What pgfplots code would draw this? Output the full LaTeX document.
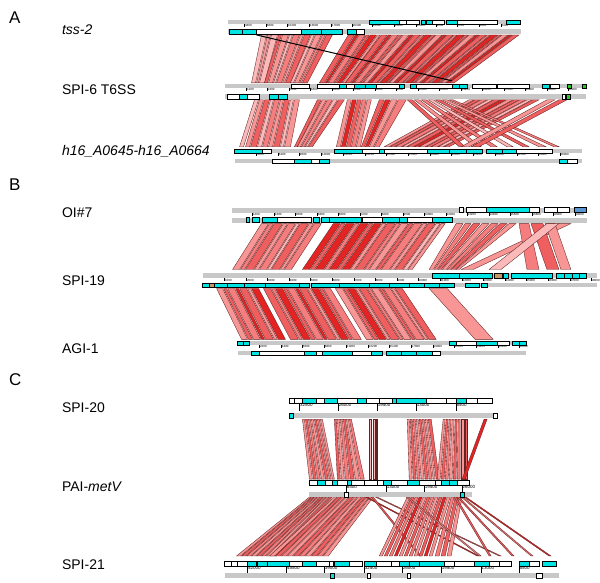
\documentclass[border=0pt]{standalone}
\usepackage{pgfplots}
\pgfplotsset{compat=1.18}
\usepackage{fontspec}
\setmainfont{Liberation Sans}
\definecolor{gb}{RGB}{200,200,200}
\definecolor{cy}{RGB}{0,228,228}
\definecolor{c1}{RGB}{248,150,150}
\definecolor{c2}{RGB}{240,95,95}
\definecolor{c3}{RGB}{252,185,185}
\definecolor{c4}{RGB}{228,35,35}
\definecolor{c5}{RGB}{245,125,125}
\definecolor{ed}{RGB}{100,35,35}
\definecolor{gr}{RGB}{40,200,40}
\definecolor{br}{RGB}{200,150,100}
\definecolor{bl}{RGB}{90,150,210}
\newcommand{\R}[5]{\addplot[fill=#5,draw=none,mark=none] coordinates {(#1,#3)(#2,#3)(#2,#4)(#1,#4)} --cycle;}
\newcommand{\F}[5]{\addplot[fill=#5,draw=black,line width=0.3pt,mark=none] coordinates {(#1,#3)(#2,#3)(#2,#4)(#1,#4)} --cycle;}
\newcommand{\lk}[5]{\addplot[fill=#5,draw=ed,line width=0.35pt,mark=none] coordinates {(#1,\yT)(#2,\yT)(#4,\yB)(#3,\yB)} --cycle;}
\newcommand{\tk}[4]{\addplot[black,line width=0.25pt,mark=none] coordinates {(#1,#2)(#1,#3)};
 \node[font=\fontsize{3}{3}\selectfont,anchor=north west,inner sep=0.3pt] at (axis cs:#1,#2) {#4};}
\newcommand{\tK}[4]{\addplot[black,line width=0.3pt,mark=none] coordinates {(#1,#2)(#1,#3)};
 \node[font=\fontsize{4.5}{4.5}\selectfont,anchor=north west,inner sep=0.4pt] at (axis cs:#1,#2) {#4};}
\begin{document}
\begin{tikzpicture}
\begin{axis}[scale only axis, width=600pt, height=584pt, xmin=0, xmax=600, ymin=0, ymax=584,
  y dir=reverse, hide axis, clip=false]
\R{0}{600}{0}{584}{white}
% ================= LINKS =================
% A1
\def\yT{35}\def\yB{83}
\lk{262}{267}{252}{256}{c3}\lk{268}{271}{257}{259}{c1}\lk{272}{278}{260}{265}{c3}\lk{279}{282}{265}{268}{c2}
\lk{283}{289}{269}{273}{c1}\lk{290}{293}{274}{276}{c3}\lk{294}{300}{277}{282}{c5}\lk{301}{304}{283}{285}{c1}
\lk{305}{311}{286}{291}{c2}\lk{312}{315}{291}{294}{c3}\lk{316}{322}{295}{299}{c1}\lk{323}{326}{300}{302}{c5}
\lk{327}{333}{303}{308}{c2}
\lk{349}{355}{320}{325}{c2}\lk{356}{359}{326}{328}{c4}\lk{360}{366}{329}{334}{c5}\lk{367}{370}{335}{337}{c2}
\lk{371}{377}{338}{342}{c4}\lk{378}{381}{343}{346}{c1}\lk{382}{388}{346}{351}{c2}\lk{389}{392}{352}{354}{c4}
\lk{393}{399}{355}{360}{c5}\lk{400}{403}{361}{363}{c2}\lk{404}{410}{364}{368}{c1}\lk{411}{414}{369}{372}{c4}
\lk{415}{421}{372}{377}{c2}\lk{422}{425}{378}{380}{c5}\lk{426}{432}{381}{386}{c4}\lk{433}{436}{387}{389}{c2}
\lk{437}{443}{390}{394}{c1}\lk{444}{447}{395}{398}{c4}\lk{448}{454}{398}{403}{c2}\lk{455}{458}{404}{406}{c5}
\lk{459}{465}{407}{412}{c4}\lk{466}{469}{413}{415}{c2}\lk{470}{476}{416}{420}{c1}\lk{477}{480}{421}{424}{c4}
\lk{481}{487}{424}{429}{c2}\lk{488}{491}{430}{432}{c5}\lk{492}{498}{433}{438}{c4}\lk{499}{502}{439}{441}{c2}
\lk{503}{509}{442}{446}{c1}\lk{510}{513}{447}{450}{c4}\lk{514}{520}{450}{455}{c2}
\addplot[black,line width=1pt,mark=none] coordinates {(257,35)(453,81)};
% A2
\def\yT{100}\def\yB{147}
\lk{255}{259}{240}{244}{c3}\lk{260}{264}{246}{250}{c1}\lk{265}{270}{251}{257}{c2}\lk{271}{274}{258}{262}{c3}
\lk{275}{280}{263}{268}{c5}\lk{281}{284}{269}{273}{c1}\lk{285}{290}{274}{280}{c2}\lk{291}{294}{281}{284}{c3}
\lk{295}{300}{285}{291}{c1}
\lk{318}{322}{295}{298}{c2}\lk{323}{327}{298}{301}{c1}\lk{328}{333}{302}{305}{c5}\lk{334}{338}{306}{308}{c3}
\lk{339}{345}{309}{313}{c2}
\lk{348}{352}{337}{341}{c1}\lk{353}{357}{342}{346}{c4}\lk{358}{362}{347}{351}{c2}\lk{363}{367}{352}{356}{c5}
\lk{368}{372}{357}{361}{c1}
\lk{380}{385}{362}{365}{c2}\lk{386}{391}{366}{369}{c4}\lk{392}{398}{370}{374}{c1}\lk{399}{407}{375}{380}{c5}
\lk{470}{475}{385}{390}{c1}\lk{476}{481}{391}{395}{c2}\lk{482}{488}{396}{402}{c5}\lk{489}{494}{403}{407}{c3}
\lk{495}{501}{408}{414}{c2}\lk{502}{507}{415}{420}{c4}\lk{508}{514}{420}{426}{c1}\lk{515}{520}{427}{432}{c2}
\lk{521}{527}{432}{438}{c5}\lk{528}{533}{439}{444}{c3}\lk{534}{540}{445}{450}{c2}
\lk{408}{413}{460}{466}{c2}\lk{415}{420}{476}{482}{c1}\lk{422}{427}{492}{498}{c5}\lk{429}{434}{508}{514}{c3}
\lk{436}{441}{524}{530}{c2}\lk{443}{448}{540}{547}{c1}\lk{450}{454}{555}{560}{c5}
\lk{548}{556}{462}{470}{c1}\lk{560}{568}{472}{480}{c2}
% B1
\def\yT{224}\def\yB{270}
\lk{262}{269}{233}{240}{c1}\lk{270}{274}{241}{245}{c5}\lk{275}{283}{246}{254}{c2}\lk{284}{288}{255}{259}{c1}
\lk{289}{296}{260}{267}{c5}\lk{297}{300}{268}{271}{c3}\lk{301}{309}{272}{280}{c2}\lk{310}{314}{281}{284}{c1}
\lk{315}{322}{285}{292}{c5}
\lk{334}{341}{303}{310}{c4}\lk{342}{346}{311}{315}{c2}\lk{347}{355}{316}{324}{c4}\lk{356}{360}{325}{329}{c5}
\lk{361}{369}{330}{337}{c4}\lk{370}{374}{338}{342}{c2}\lk{375}{382}{343}{350}{c4}\lk{383}{387}{351}{355}{c1}
\lk{388}{396}{356}{364}{c2}\lk{397}{401}{365}{369}{c5}\lk{402}{409}{370}{376}{c1}\lk{410}{414}{377}{381}{c2}
\lk{415}{423}{382}{390}{c5}\lk{424}{428}{391}{395}{c1}\lk{429}{436}{396}{403}{c2}\lk{437}{441}{404}{408}{c3}
\lk{442}{446}{409}{413}{c1}
\lk{457}{464}{430}{434}{c1}\lk{466}{472}{435}{438}{c5}\lk{474}{481}{439}{442}{c2}\lk{483}{490}{443}{447}{c1}
\lk{492}{499}{448}{451}{c5}\lk{501}{508}{452}{456}{c2}\lk{510}{517}{457}{460}{c1}
\lk{560}{572}{462}{474}{c1}\lk{520}{530}{528}{540}{c5}\lk{532}{544}{548}{560}{c2}\lk{546}{556}{562}{572}{c1}
\lk{548}{560}{490}{502}{c3}
% B2
\def\yT{289}\def\yB{340}
\lk{217}{223}{242}{248}{c1}\lk{224}{227}{249}{253}{c2}\lk{228}{235}{254}{261}{c5}\lk{236}{239}{262}{265}{c4}
\lk{240}{247}{266}{274}{c2}\lk{248}{251}{275}{278}{c1}\lk{252}{259}{279}{286}{c4}
\lk{264}{271}{291}{299}{c2}\lk{272}{275}{300}{303}{c5}\lk{276}{283}{304}{311}{c4}\lk{284}{287}{312}{316}{c2}
\lk{288}{295}{317}{324}{c5}\lk{296}{299}{325}{328}{c4}\lk{300}{307}{329}{337}{c2}\lk{308}{311}{338}{341}{c1}
\lk{312}{319}{342}{349}{c4}\lk{320}{323}{350}{353}{c2}\lk{324}{331}{354}{362}{c5}
\lk{336}{343}{367}{374}{c1}\lk{344}{347}{375}{379}{c2}\lk{348}{355}{380}{387}{c4}\lk{356}{359}{388}{391}{c1}
\lk{360}{367}{392}{400}{c2}\lk{368}{371}{401}{404}{c5}\lk{372}{379}{405}{412}{c1}\lk{380}{383}{413}{416}{c2}
\lk{384}{391}{417}{425}{c5}\lk{392}{395}{426}{429}{c1}\lk{396}{403}{430}{437}{c2}
\lk{430}{448}{476}{494}{c1}
% C1
\def\yT{420}\def\yB{480}
\lk{303}{305}{310}{313}{c1}\lk{306}{308}{314}{317}{c2}\lk{309}{311}{318}{321}{c5}\lk{312}{314}{322}{325}{c1}
\lk{315}{317}{326}{329}{c2}\lk{318}{320}{330}{332}{c5}\lk{321}{323}{333}{335}{c1}
\lk{335}{337}{338}{341}{c2}\lk{338}{340}{342}{345}{c1}\lk{341}{343}{346}{350}{c5}\lk{344}{346}{351}{355}{c2}
\lk{347}{349}{356}{360}{c1}\lk{350}{352}{361}{365}{c5}
\lk{370}{372}{370}{372}{c3}\lk{374}{376}{374}{376}{c3}\lk{377}{378}{377}{378}{c1}
\lk{408}{410}{410}{413}{c1}\lk{411}{413}{414}{417}{c2}\lk{414}{416}{418}{421}{c5}\lk{417}{419}{422}{425}{c1}
\lk{420}{422}{426}{429}{c2}\lk{423}{425}{430}{433}{c5}\lk{426}{428}{434}{436}{c1}\lk{429}{432}{437}{440}{c2}
\lk{444}{446}{438}{441}{c1}\lk{447}{449}{442}{445}{c2}\lk{450}{452}{446}{449}{c5}\lk{453}{455}{450}{453}{c1}
\lk{456}{458}{454}{457}{c2}\lk{459}{461}{458}{461}{c5}\lk{462}{465}{462}{465}{c1}\lk{466}{468}{466}{468}{c2}
\lk{485}{488}{463}{466}{c4}
% C2
\def\yT{498}\def\yB{557}
\lk{310}{312}{237}{241}{c1}\lk{313}{315}{242}{246}{c2}\lk{316}{318}{247}{251}{c5}\lk{319}{321}{252}{256}{c1}
\lk{322}{324}{257}{261}{c2}\lk{325}{327}{262}{266}{c5}\lk{328}{330}{267}{271}{c1}\lk{331}{333}{272}{277}{c2}
\lk{335}{338}{270}{275}{c1}\lk{339}{342}{276}{281}{c2}\lk{343}{346}{282}{287}{c5}\lk{347}{350}{288}{293}{c1}
\lk{351}{354}{294}{299}{c2}\lk{355}{358}{300}{305}{c5}\lk{359}{362}{306}{311}{c1}\lk{363}{366}{312}{317}{c2}
\lk{367}{370}{318}{323}{c5}\lk{371}{374}{324}{329}{c1}
\lk{366}{368}{478}{480}{c4}\lk{372}{374}{420}{422}{c2}\lk{376}{378}{500}{502}{c1}
\lk{408}{411}{380}{383}{c1}\lk{412}{415}{385}{388}{c2}\lk{416}{419}{390}{393}{c5}\lk{420}{423}{395}{398}{c4}
\lk{424}{427}{400}{403}{c1}\lk{428}{431}{405}{408}{c2}\lk{432}{435}{410}{413}{c5}\lk{436}{439}{415}{418}{c1}
\lk{440}{443}{420}{423}{c2}\lk{444}{447}{425}{428}{c4}\lk{448}{451}{430}{433}{c1}
\lk{452}{455}{436}{440}{c5}\lk{456}{459}{442}{446}{c2}\lk{460}{463}{448}{452}{c1}
\lk{458}{460}{513}{515}{c2}\lk{462}{464}{532}{534}{c5}\lk{465}{467}{550}{552}{c4}\lk{407}{409}{480}{482}{c1}
\lk{455}{457}{490}{492}{c2}
% ================= TRACKS =================
% T1 tss-2
\R{228}{522}{20}{24}{gb}\R{228}{522}{29}{34}{gb}
\F{370}{400}{20}{24}{cy}\F{400}{407}{20}{24}{white}\F{407}{420}{20}{24}{white}
\F{422}{426}{20}{24}{cy}\F{427}{433}{20}{24}{cy}\F{433}{445}{20}{24}{white}
\F{447}{458}{20}{24}{cy}\F{458}{498}{20}{24}{white}\F{507}{521}{20}{24}{cy}
\F{230}{243}{29}{34}{cy}\F{243}{257}{29}{34}{cy}\F{257}{302}{29}{34}{white}
\F{302}{322}{29}{34}{cy}\F{322}{343}{29}{34}{cy}\F{348}{357}{29}{34}{cy}\F{357}{365}{29}{34}{white}
\tk{245}{24}{27}{3400}\tk{267}{24}{27}{6800}\tk{288}{24}{27}{10200}\tk{310}{24}{27}{13600}
\tk{332}{24}{27}{17000}\tk{353}{24}{27}{20400}\tk{373}{24}{27}{14400}\tk{395}{24}{27}{13200}
\tk{417}{24}{27}{12000}\tk{437}{24}{27}{9600}\tk{458}{24}{27}{7200}\tk{480}{24}{27}{4800}\tk{502}{24}{27}{2400}
% T2 SPI-6
\R{225}{587}{84}{88}{gb}\R{225}{587}{94}{99}{gb}
\F{292}{310}{84}{88}{white}\F{318}{340}{84}{88}{white}\F{340}{347}{84}{88}{cy}\F{347}{355}{84}{88}{white}
\F{355}{366}{84}{88}{cy}\F{366}{377}{84}{88}{cy}\F{377}{400}{84}{88}{white}\F{400}{405}{84}{88}{cy}
\F{411}{417}{84}{88}{cy}\F{417}{453}{84}{88}{white}\F{453}{460}{84}{88}{cy}\F{460}{468}{84}{88}{cy}
\F{473}{497}{84}{88}{white}\F{498}{530}{84}{88}{white}\F{543}{550}{84}{88}{cy}\F{551}{560}{84}{88}{white}
\F{568}{572}{84}{88}{gr}\F{583}{587}{84}{88}{gr}
\F{228}{240}{94}{99}{white}\F{240}{248}{94}{99}{cy}\F{248}{260}{94}{99}{white}\F{270}{279}{94}{99}{cy}\F{279}{288}{94}{99}{cy}
\F{563}{566}{94}{99}{white}\F{567}{571}{94}{99}{gr}
\tk{247}{88}{91}{1200}\tk{268}{88}{91}{2400}\tk{290}{88}{91}{3600}\tk{311}{88}{91}{4800}
\tk{333}{88}{91}{6000}\tk{354}{88}{91}{7200}\tk{376}{88}{91}{8400}\tk{397}{88}{91}{9600}
\tk{419}{88}{91}{10800}\tk{440}{88}{91}{12000}\tk{462}{88}{91}{13200}\tk{483}{88}{91}{14400}
\tk{505}{88}{91}{15600}\tk{526}{88}{91}{16800}\tk{548}{88}{91}{18000}\tk{569}{88}{91}{19200}
% T3 h16
\R{235}{583}{149}{153}{gb}\R{235}{583}{159}{163}{gb}
\F{235}{263}{149}{153}{cy}\F{263}{272}{149}{153}{white}\F{335}{363}{149}{153}{cy}\F{363}{380}{149}{153}{white}
\F{380}{385}{149}{153}{cy}\F{385}{428}{149}{153}{white}\F{428}{450}{149}{153}{cy}\F{450}{467}{149}{153}{cy}
\F{467}{483}{149}{153}{cy}\F{487}{503}{149}{153}{cy}\F{503}{517}{149}{153}{cy}\F{517}{553}{149}{153}{white}
\F{273}{295}{159}{163}{white}\F{295}{312}{159}{163}{cy}\F{312}{320}{159}{163}{white}\F{320}{330}{159}{163}{cy}
\F{560}{568}{159}{163}{cy}\F{568}{578}{159}{163}{white}
\tk{257}{153}{156}{3200}\tk{279}{153}{156}{6400}\tk{300}{153}{156}{9600}\tk{322}{153}{156}{12800}
\tk{344}{153}{156}{16000}\tk{366}{153}{156}{19200}\tk{387}{153}{156}{22400}\tk{409}{153}{156}{25600}
\tk{431}{153}{156}{28800}\tk{452}{153}{156}{32000}\tk{474}{153}{156}{35200}\tk{496}{153}{156}{38400}
\tk{518}{153}{156}{41600}\tk{539}{153}{156}{44800}\tk{561}{153}{156}{48000}
% T4 OI#7
\R{232}{588}{208}{213}{gb}\R{232}{588}{218}{223}{gb}
\F{460}{464}{208}{213}{white}\F{467}{487}{208}{213}{white}\F{487}{530}{208}{213}{cy}\F{530}{540}{208}{213}{white}
\F{545}{558}{208}{213}{white}\F{558}{570}{208}{213}{white}\F{575}{587}{208}{213}{bl}
\F{247}{250}{218}{223}{cy}\F{253}{260}{218}{223}{cy}\F{263}{278}{218}{223}{cy}\F{278}{312}{218}{223}{white}
\F{314}{320}{218}{223}{cy}\F{322}{330}{218}{223}{cy}\F{330}{362}{218}{223}{cy}\F{363}{383}{218}{223}{white}
\F{383}{400}{218}{223}{cy}\F{400}{408}{218}{223}{cy}\F{408}{433}{218}{223}{white}\F{433}{453}{218}{223}{cy}
\tk{253}{213}{216}{1200}\tk{275}{213}{216}{2400}\tk{296}{213}{216}{3600}\tk{318}{213}{216}{4800}
\tk{339}{213}{216}{6000}\tk{361}{213}{216}{7200}\tk{382}{213}{216}{8400}\tk{404}{213}{216}{9600}
\tk{425}{213}{216}{10800}\tk{447}{213}{216}{12000}\tk{468}{213}{216}{13200}\tk{490}{213}{216}{14400}
\tk{511}{213}{216}{15600}\tk{533}{213}{216}{16800}\tk{554}{213}{216}{18000}\tk{576}{213}{216}{19200}
% T5 SPI-19
\R{203}{598}{274}{279}{gb}\R{203}{598}{284}{288}{gb}
\F{433}{460}{274}{279}{cy}\F{460}{493}{274}{279}{cy}\F{495}{503}{274}{279}{br}\F{504}{509}{274}{279}{cy}
\F{512}{553}{274}{279}{cy}\F{557}{565}{274}{279}{cy}\F{565}{573}{274}{279}{cy}\F{573}{580}{274}{279}{cy}\F{580}{587}{274}{279}{cy}
\F{203}{210}{284}{288}{cy}\F{210}{215}{284}{288}{br}\F{215}{228}{284}{288}{cy}\F{228}{245}{284}{288}{cy}
\F{245}{266}{284}{288}{cy}\F{266}{300}{284}{288}{cy}\F{300}{310}{284}{288}{cy}\F{312}{340}{284}{288}{cy}
\F{340}{370}{284}{288}{cy}\F{370}{390}{284}{288}{cy}\F{390}{410}{284}{288}{cy}\F{410}{425}{284}{288}{cy}
\F{425}{440}{284}{288}{cy}\F{440}{455}{284}{288}{cy}\F{466}{480}{284}{288}{cy}\F{482}{488}{284}{288}{cy}
\tk{225}{279}{282}{1000}\tk{247}{279}{282}{2000}\tk{268}{279}{282}{3000}\tk{290}{279}{282}{4000}
\tk{311}{279}{282}{5000}\tk{333}{279}{282}{6000}\tk{355}{279}{282}{7000}\tk{376}{279}{282}{8000}
\tk{398}{279}{282}{9000}\tk{419}{279}{282}{10000}\tk{441}{279}{282}{11000}\tk{463}{279}{282}{12000}
\tk{484}{279}{282}{13000}\tk{506}{279}{282}{14000}\tk{527}{279}{282}{15000}\tk{549}{279}{282}{16000}
\tk{571}{279}{282}{17000}\tk{592}{279}{282}{18000}
% T6 AGI-1
\R{238}{527}{342}{346}{gb}\R{238}{527}{352}{356}{gb}
\F{238}{244}{342}{346}{cy}\F{244}{250}{342}{346}{cy}\F{450}{457}{342}{346}{cy}\F{457}{477}{342}{346}{white}
\F{477}{498}{342}{346}{cy}\F{498}{510}{342}{346}{white}\F{513}{520}{342}{346}{cy}\F{520}{527}{342}{346}{cy}
\F{252}{260}{352}{356}{cy}\F{260}{305}{352}{356}{white}\F{305}{317}{352}{356}{cy}\F{317}{323}{352}{356}{white}
\F{323}{353}{352}{356}{cy}\F{353}{372}{352}{356}{white}\F{372}{383}{352}{356}{cy}\F{387}{402}{352}{356}{cy}
\F{402}{417}{352}{356}{cy}\F{417}{433}{352}{356}{cy}\F{433}{441}{352}{356}{white}
\tk{260}{346}{349}{2200}\tk{282}{346}{349}{4400}\tk{303}{346}{349}{6600}\tk{325}{346}{349}{8800}
\tk{347}{346}{349}{11000}\tk{369}{346}{349}{13200}\tk{390}{346}{349}{15400}\tk{412}{346}{349}{17600}
\tk{434}{346}{349}{19800}\tk{455}{346}{349}{22000}\tk{477}{346}{349}{24200}\tk{499}{346}{349}{26400}
\tk{520}{346}{349}{28600}
% T7 SPI-20
\R{290}{498}{414}{419}{gb}
\F{290}{295}{399}{404}{white}\F{295}{303}{399}{404}{white}\F{303}{317}{399}{404}{cy}\F{317}{325}{399}{404}{white}
\F{325}{338}{399}{404}{cy}\F{338}{358}{399}{404}{white}\F{358}{367}{399}{404}{cy}\F{367}{380}{399}{404}{white}
\F{380}{393}{399}{404}{white}\F{393}{397}{399}{404}{cy}\F{397}{427}{399}{404}{cy}\F{427}{447}{399}{404}{white}
\F{447}{457}{399}{404}{white}\F{457}{467}{399}{404}{cy}\F{467}{478}{399}{404}{white}\F{478}{493}{399}{404}{white}
\F{290}{294}{414}{419}{cy}\F{494}{498}{414}{419}{white}
\tK{300}{404}{412}{32500}\tK{339}{404}{412}{26000}\tK{378}{404}{412}{19500}\tK{417}{404}{412}{13000}\tK{457}{404}{412}{6500}
% T8 PAI-metV
\R{310}{473}{493}{498}{gb}
\F{310}{318}{481}{486}{white}\F{318}{326}{481}{486}{cy}\F{326}{333}{481}{486}{white}\F{333}{338}{481}{486}{cy}
\F{338}{348}{481}{486}{white}\F{348}{352}{481}{486}{cy}\F{352}{365}{481}{486}{white}\F{365}{378}{481}{486}{white}
\F{378}{384}{481}{486}{white}\F{384}{392}{481}{486}{cy}\F{392}{408}{481}{486}{white}\F{408}{420}{481}{486}{cy}
\F{420}{436}{481}{486}{white}\F{436}{442}{481}{486}{white}\F{442}{450}{481}{486}{cy}\F{450}{458}{481}{486}{cy}
\F{458}{470}{481}{486}{white}
\F{345}{349}{493}{498}{white}\F{461}{465}{493}{498}{cy}
\tK{347}{486}{493}{6500}\tK{387}{486}{493}{13000}\tK{425}{486}{493}{19500}\tK{463}{486}{493}{26000}
% T9 SPI-21
\R{225}{560}{574}{579}{gb}
\F{225}{232}{562}{567}{white}\F{232}{238}{562}{567}{white}\F{238}{248}{562}{567}{white}\F{248}{257}{562}{567}{cy}
\F{258}{268}{562}{567}{cy}\F{268}{290}{562}{567}{cy}\F{290}{303}{562}{567}{white}\F{303}{317}{562}{567}{cy}
\F{317}{330}{562}{567}{white}\F{330}{334}{562}{567}{white}\F{335}{350}{562}{567}{cy}\F{350}{363}{562}{567}{white}
\F{365}{377}{562}{567}{cy}\F{377}{392}{562}{567}{white}\F{392}{400}{562}{567}{white}\F{400}{410}{562}{567}{cy}
\F{410}{420}{562}{567}{cy}\F{420}{445}{562}{567}{cy}\F{445}{455}{562}{567}{white}\F{455}{475}{562}{567}{white}
\F{475}{490}{562}{567}{cy}\F{490}{500}{562}{567}{white}\F{500}{512}{562}{567}{white}\F{520}{530}{562}{567}{cy}
\F{530}{540}{562}{567}{white}\F{543}{557}{562}{567}{cy}
\F{331}{335}{574}{579}{cy}\F{368}{371}{574}{579}{white}\F{408}{411}{574}{579}{white}\F{537}{543}{574}{579}{white}
\tK{248}{567}{574}{52000}\tK{287}{567}{574}{45500}\tK{325}{567}{574}{39000}\tK{365}{567}{574}{32500}
\tK{403}{567}{574}{26000}\tK{442}{567}{574}{19500}\tK{482}{567}{574}{13000}\tK{520}{567}{574}{6500}
% ================= LABELS =================
\node[anchor=west,font=\fontsize{17}{17}\selectfont,inner sep=0pt] at (axis cs:9,18) {A};
\node[anchor=west,font=\fontsize{17}{17}\selectfont,inner sep=0pt] at (axis cs:9,185) {B};
\node[anchor=west,font=\fontsize{17}{17}\selectfont,inner sep=0pt] at (axis cs:9,380) {C};
\node[anchor=west,font=\fontsize{14}{14}\selectfont,inner sep=0pt] at (axis cs:62,30) {\textit{tss-2}};
\node[anchor=west,font=\fontsize{14}{14}\selectfont,inner sep=0pt] at (axis cs:62,90) {SPI-6 T6SS};
\node[anchor=west,font=\fontsize{14}{14}\selectfont,inner sep=0pt] at (axis cs:62,152) {\textit{h16\_A0645-h16\_A0664}};
\node[anchor=west,font=\fontsize{14}{14}\selectfont,inner sep=0pt] at (axis cs:62,213) {OI\#7};
\node[anchor=west,font=\fontsize{14}{14}\selectfont,inner sep=0pt] at (axis cs:62,281) {SPI-19};
\node[anchor=west,font=\fontsize{14}{14}\selectfont,inner sep=0pt] at (axis cs:62,349) {AGI-1};
\node[anchor=west,font=\fontsize{14}{14}\selectfont,inner sep=0pt] at (axis cs:62,408) {SPI-20};
\node[anchor=west,font=\fontsize{14}{14}\selectfont,inner sep=0pt] at (axis cs:62,488) {PAI-\textit{metV}};
\node[anchor=west,font=\fontsize{14}{14}\selectfont,inner sep=0pt] at (axis cs:62,566) {SPI-21};
\end{axis}
\end{tikzpicture}
\end{document}
